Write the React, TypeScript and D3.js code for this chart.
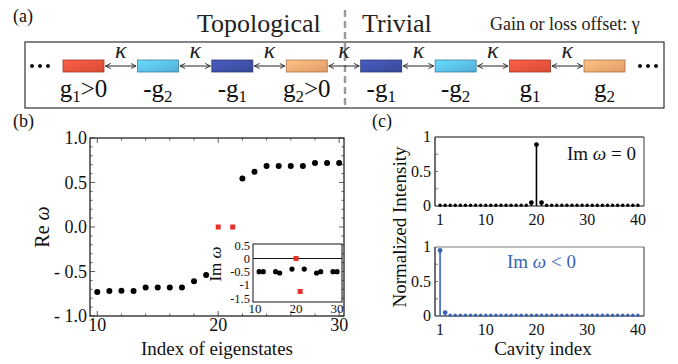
import React from "react";
import * as d3 from "d3";

const W = 678;
const H = 364;
const FONT = "Liberation Serif, Times New Roman, serif";

// (a) cavity chain
const chainColors = ["#e8503a", "#58b9e6", "#3c4ea2", "#f2a46e", "#3c4ea2", "#58b9e6", "#e8503a", "#f2a46e"];
const chainSign = ["", "-", "-", "", "-", "-", "", ""];
const chainSub = ["1", "2", "1", "2", "1", "2", "1", "2"];
const chainSuffix = [">0", "", "", ">0", "", "", "", ""];

// (b) Re omega
const reIndex = [10, 11, 12, 13, 14, 15, 16, 17, 18, 19, 22, 23, 24, 25, 26, 27, 28, 29, 30];
const reValue = [-0.73, -0.72, -0.715, -0.72, -0.68, -0.68, -0.68, -0.68, -0.61, -0.54, 0.545, 0.62, 0.685, 0.685, 0.685, 0.685, 0.72, 0.72, 0.72];
const edgeIndex = [20, 21.2];
const edgeRe = [0, 0];
const reTicks = [1, 0.5, 0, -0.5, -1];
const reTickLabels = ["1.0", "0.5", "0.0", "- 0.5", "- 1.0"];

// (b) inset Im omega
const imIndex = [11, 12, 15, 16, 19, 22, 25, 26, 29, 30];
const imValue = [-0.5, -0.5, -0.5, -0.55, -0.4, -0.4, -0.55, -0.5, -0.5, -0.5];
const imEdgeIndex = [20, 21];
const edgeIm = [0, -1.25];
const imTicks = [0.5, 0, -0.5, -1, -1.5];
const imTickLabels = ["0.5", "0", "-0.5", "-1", "-1.5"];

// (c) intensity profiles
const cavityIndex = d3.range(1, 41);
const zeroModeI = [
  0.01, 0.01, 0.01, 0.01, 0.01, 0.01, 0.01, 0.01, 0.01, 0.01,
  0.01, 0.01, 0.01, 0.01, 0.01, 0.01, 0.01, 0.01, 0.05, 0.89,
  0.05, 0.01, 0.01, 0.01, 0.01, 0.01, 0.01, 0.01, 0.01, 0.01,
  0.01, 0.01, 0.01, 0.01, 0.01, 0.01, 0.01, 0.01, 0.01, 0.01,
];
const lossyModeI = [
  0.95, 0.05, 0.01, 0.01, 0.01, 0.01, 0.01, 0.01, 0.01, 0.01,
  0.01, 0.01, 0.01, 0.01, 0.01, 0.01, 0.01, 0.01, 0.01, 0.01,
  0.01, 0.01, 0.01, 0.01, 0.01, 0.01, 0.01, 0.01, 0.01, 0.01,
  0.01, 0.01, 0.01, 0.01, 0.01, 0.01, 0.01, 0.01, 0.01, 0.01,
];
const cavTicks = [1, 10, 20, 30, 40];
const intTicks = [1, 0.5, 0];
const intTickLabels = ["1", "0.5", "0"];

const BLUE = "#3a63b6";
const RED = "#e8302a";

const Omega = () => <tspan fontStyle="italic">ω</tspan>;

function Chain() {
  const xC = d3.scalePoint<number>().domain(d3.range(chainColors.length)).range([83.5, 604.5]);
  const rw = 41;
  const rh = 12;
  const cy = 66;
  return (
    <g>
      <defs>
        {chainColors.map((c, i) => (
          <linearGradient key={i} id={`cg${i}`} x1="0" y1="0" x2="1" y2="1">
            <stop offset="0" stopColor={d3.color(c)!.brighter(0.5).formatHex()} />
            <stop offset="1" stopColor={d3.color(c)!.darker(0.2).formatHex()} />
          </linearGradient>
        ))}
        <marker id="ah" viewBox="0 0 8 8" refX="7" refY="4" markerWidth="6" markerHeight="6" orient="auto-start-reverse" markerUnits="userSpaceOnUse">
          <path d="M0,0.5 L7,4 L0,7.5" fill="none" stroke="#222" strokeWidth="1.2" />
        </marker>
      </defs>
      <rect x={25} y={42} width={639} height={66} fill="none" stroke="#333" strokeWidth={1.2} />
      <line x1={345} x2={345} y1={10} y2={108} stroke="#9a9a9a" strokeWidth={2.5} strokeDasharray="7,4" />
      {chainColors.map((c, i) => (
        <rect key={i} x={xC(i)! - rw / 2} y={cy - rh / 2} width={rw} height={rh} fill={`url(#cg${i})`} stroke={d3.color(c)!.darker(1).formatHex()} strokeWidth={0.8} />
      ))}
      {chainColors.slice(1).map((_, i) => {
        const x0 = xC(i)! + rw / 2 + 1.5;
        const x1 = xC(i + 1)! - rw / 2 - 1.5;
        return (
          <g key={i}>
            <line x1={x0} x2={x1} y1={cy} y2={cy} stroke="#222" strokeWidth={1} markerStart="url(#ah)" markerEnd="url(#ah)" />
            <text x={(x0 + x1) / 2} y={58} textAnchor="middle" fontFamily={FONT} fontStyle="italic" fontSize={24} fill="#222">κ</text>
          </g>
        );
      })}
      {[32, 40, 48, 640, 648, 656].map((x) => (
        <circle key={x} cx={x} cy={cy} r={2} fill="#111" />
      ))}
      {chainColors.map((_, i) => (
        <text key={i} x={xC(i)} y={97} textAnchor="middle" fontFamily={FONT} fontSize={25} fill="#111">
          {chainSign[i]}g<tspan fontSize={17} dy={5}>{chainSub[i]}</tspan>
          {chainSuffix[i] ? <tspan dy={-5}>{chainSuffix[i]}</tspan> : null}
        </text>
      ))}
      <text x={197} y={32} fontFamily={FONT} fontSize={26} fill="#222">Topological</text>
      <text x={362} y={32} fontFamily={FONT} fontSize={26} fill="#222">Trivial</text>
      <text x={490} y={30} fontFamily={FONT} fontSize={18} fill="#222">Gain or loss offset: γ</text>
    </g>
  );
}

function PanelB() {
  const x = d3.scaleLinear().domain([9.4, 30.4]).range([90, 344]);
  const y = d3.scaleLinear().domain([-1, 1]).range([316, 138]);
  const [x0, x1] = x.range();
  const [y0, y1] = y.range();
  const minorY = d3.range(-1, 1.001, 0.1);
  const minorX = d3.range(10, 30.01, 2);

  const xi = d3.scaleLinear().domain([9.5, 31.2]).range([253, 342]);
  const yi = d3.scaleLinear().domain([-1.65, 0.55]).range([302, 244]);

  return (
    <g fontFamily={FONT}>
      <rect x={x0} y={y1} width={x1 - x0} height={y0 - y1} fill="none" stroke="#111" strokeWidth={1.2} />
      {minorY.map((v, i) => {
        const big = Math.abs(v * 2 - Math.round(v * 2)) < 1e-6;
        const l = big ? 5 : 2.5;
        return (
          <g key={i} stroke="#333" strokeWidth={0.8}>
            <line x1={x0} x2={x0 + l} y1={y(v)} y2={y(v)} />
            <line x1={x1} x2={x1 - l} y1={y(v)} y2={y(v)} />
          </g>
        );
      })}
      {minorX.map((v, i) => {
        const l = v % 10 === 0 ? 5 : 2.5;
        return (
          <g key={i} stroke="#333" strokeWidth={0.8}>
            <line x1={x(v)} x2={x(v)} y1={y0} y2={y0 - l} />
            <line x1={x(v)} x2={x(v)} y1={y1} y2={y1 + l} />
          </g>
        );
      })}
      {reTicks.map((v, i) => (
        <text key={i} x={x0 - 3} y={y(v) + 6} textAnchor="end" fontSize={18} fill="#111">{reTickLabels[i]}</text>
      ))}
      {[10, 20, 30].map((v) => (
        <text key={v} x={x(v)} y={331} textAnchor="middle" fontSize={18} fill="#111">{v}</text>
      ))}
      <text x={217} y={355} textAnchor="middle" fontSize={19} fill="#111">Index of eigenstates</text>
      <text transform="translate(49,227) rotate(-90)" textAnchor="middle" fontSize={20} fill="#111">Re <Omega /></text>
      {reIndex.map((d, i) => (
        <circle key={i} cx={x(d)} cy={y(reValue[i])} r={3} fill="#000" />
      ))}
      {edgeIndex.map((d, i) => (
        <rect key={i} x={x(d) - 2.5} y={y(edgeRe[i]) - 2.5} width={5} height={5} fill={RED} />
      ))}

      {/* inset */}
      <rect x={253} y={244} width={89} height={58} fill="#fff" stroke="#111" strokeWidth={1} />
      <line x1={253} x2={342} y1={yi(0)} y2={yi(0)} stroke="#111" strokeWidth={1} />
      {imTicks.map((v, i) => (
        <text key={i} x={250} y={yi(v) + 4.5} textAnchor="end" fontSize={12.5} fill="#111">{imTickLabels[i]}</text>
      ))}
      {[10, 20, 30].map((v) => (
        <text key={v} x={xi(v)} y={313} textAnchor="middle" fontSize={13} fill="#111">{v}</text>
      ))}
      <text transform="translate(221,264) rotate(-90)" textAnchor="middle" fontSize={17} fill="#111">Im <Omega /></text>
      {imIndex.map((d, i) => (
        <circle key={i} cx={xi(d)} cy={yi(imValue[i])} r={2.6} fill="#000" />
      ))}
      {imEdgeIndex.map((d, i) => (
        <rect key={i} x={xi(d) - 2.5} y={yi(edgeIm[i]) - 2.5} width={5} height={5} fill={RED} />
      ))}
    </g>
  );
}

function Profile({ values, color, top, bottom, label, topStroke }: { values: number[]; color: string; top: number; bottom: number; label: React.ReactNode; topStroke: string }) {
  const x = d3.scaleLinear().domain([0, 41.2]).range([435, 644]);
  const y = d3.scaleLinear().domain([0, 1]).range([bottom, top]);
  const [x0, x1] = x.range();
  return (
    <g fontFamily={FONT}>
      <line x1={x0} x2={x1} y1={top} y2={top} stroke={topStroke} strokeWidth={1.2} />
      <line x1={x1} x2={x1} y1={top} y2={bottom} stroke="#555" strokeWidth={1.2} />
      <line x1={x0} x2={x0} y1={top} y2={bottom} stroke="#111" strokeWidth={1.2} />
      <line x1={x0} x2={x1} y1={bottom} y2={bottom} stroke="#111" strokeWidth={1.2} />
      {[0.25, 0.5, 0.75].map((v) => (
        <line key={v} x1={x0} x2={x0 + 3} y1={y(v)} y2={y(v)} stroke="#555" strokeWidth={0.8} />
      ))}
      {intTicks.map((v, i) => (
        <text key={i} x={x0 - 4} y={y(v) + 5} textAnchor="end" fontSize={16} fill="#111">{intTickLabels[i]}</text>
      ))}
      {cavTicks.map((v) => (
        <text key={v} x={x(v)} y={bottom + 19} textAnchor="middle" fontSize={16} fill="#111">{v}</text>
      ))}
      {cavityIndex.map((c, i) => (
        <g key={c}>
          <line x1={x(c)} x2={x(c)} y1={y(0)} y2={y(values[i])} stroke={color} strokeWidth={1.6} />
          <circle cx={x(c)} cy={y(values[i])} r={values[i] > 0.02 ? 2.4 : 1.7} fill={color} />
        </g>
      ))}
      {label}
    </g>
  );
}

export default function App() {
  return (
    <svg width={W} height={H} style={{ position: "absolute", left: 0, top: 0, background: "#fff" }}>
      <Chain />
      <text x={13} y={22} fontFamily={FONT} fontSize={18} fill="#111">(a)</text>
      <text x={13} y={127} fontFamily={FONT} fontSize={18} fill="#111">(b)</text>
      <text x={372} y={127} fontFamily={FONT} fontSize={18} fill="#111">(c)</text>
      <PanelB />
      <Profile
        values={zeroModeI}
        color="#000"
        top={137}
        bottom={206}
        topStroke="#111"
        label={<text x={636} y={160} textAnchor="end" fontFamily={FONT} fontSize={19} fill="#111">Im <Omega /> = 0</text>}
      />
      <Profile
        values={lossyModeI}
        color={BLUE}
        top={247}
        bottom={316}
        topStroke="#777"
        label={<text x={507} y={268} fontFamily={FONT} fontSize={19} fill={BLUE}>Im <Omega /> &lt; 0</text>}
      />
      <text x={543} y={355} textAnchor="middle" fontFamily={FONT} fontSize={19} fill="#111">Cavity index</text>
      <text transform="translate(406,227) rotate(-90)" textAnchor="middle" fontFamily={FONT} fontSize={19} fill="#111">Normalized Intensity</text>
    </svg>
  );
}
